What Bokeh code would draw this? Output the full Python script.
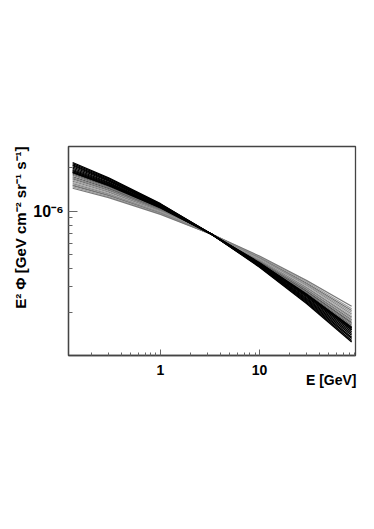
import math
from bokeh.plotting import figure
from bokeh.models import FixedTicker, CustomJSTickFormatter, Label, Title, ColumnDataSource
from bokeh.embed import file_html
from bokeh.resources import INLINE

# ---------------- data ----------------
energy_gev = [0.13, 0.3, 1.0, 3.3, 10.0, 30.0, 85.0]
FLUX_UNIT = 1e-7  # E^2 Phi values below are in units of 1e-7 GeV cm^-2 sr^-1 s^-1

gray_curves = [
    [19.0, 15.3, 10.6, 6.9, 4.35, 2.59, 1.51],
    [18.7, 15.1, 10.5, 6.9, 4.38, 2.64, 1.55],
    [18.3, 14.9, 10.48, 6.9, 4.41, 2.67, 1.58],
    [18.0, 14.7, 10.4, 6.9, 4.44, 2.71, 1.62],
    [17.7, 14.5, 10.3, 6.9, 4.48, 2.75, 1.66],
    [17.3, 14.3, 10.2, 6.9, 4.51, 2.79, 1.69],
    [17.0, 14.1, 10.18, 6.9, 4.54, 2.84, 1.73],
    [16.7, 13.9, 10.1, 6.9, 4.57, 2.87, 1.77],
    [16.4, 13.7, 10.0, 6.9, 4.61, 2.92, 1.81],
    [16.1, 13.5, 9.96, 6.9, 4.64, 2.96, 1.85],
    [15.8, 13.3, 9.89, 6.9, 4.67, 3.01, 1.89],
    [15.5, 13.1, 9.81, 6.9, 4.71, 3.06, 1.94],
    [15.2, 12.9, 9.74, 6.9, 4.75, 3.11, 1.99],
    [15.0, 12.8, 9.66, 6.9, 4.79, 3.16, 2.05],
    [14.7, 12.6, 9.58, 6.9, 4.83, 3.23, 2.11],
    [14.4, 12.38, 9.49, 6.9, 4.88, 3.30, 2.19],
]
gray_colors = [
    "#202020", "#4d4d4d", "#333333", "#666666", "#7a7a7a", "#555555",
    "#8a8a8a", "#707070", "#a0a0a0", "#7a7a7a", "#b0b0b0", "#8a8a8a",
    "#999999", "#707070", "#a0a0a0", "#7a7a7a",
]

black_curves = [
    [21.7, 17.0, 11.25, 6.9, 4.09, 2.28, 1.24],
    [21.3, 16.8, 11.17, 6.9, 4.12, 2.32, 1.27],
    [20.9, 16.5, 11.08, 6.9, 4.16, 2.36, 1.31],
    [20.6, 16.3, 11.0, 6.9, 4.19, 2.40, 1.34],
    [20.2, 16.1, 10.9, 6.9, 4.23, 2.44, 1.38],
    [19.8, 15.8, 10.8, 6.9, 4.26, 2.48, 1.42],
    [19.4, 15.6, 10.7, 6.9, 4.30, 2.53, 1.46],
    [19.1, 15.4, 10.66, 6.9, 4.34, 2.57, 1.50],
    [18.7, 15.2, 10.6, 6.9, 4.37, 2.62, 1.54],
    [18.5, 15.0, 10.5, 6.9, 4.39, 2.65, 1.56],
]

x_major = [1, 10]
x_minor = [0.2, 0.3, 0.4, 0.5, 0.6, 0.7, 0.8, 0.9,
           2, 3, 4, 5, 6, 7, 8, 9, 20, 30, 40, 50, 60, 70, 80, 90]
y_major = [1e-6]
y_minor = [2e-7, 3e-7, 4e-7, 5e-7, 6e-7, 7e-7, 8e-7, 9e-7, 2e-6]

x_title = "E [GeV]"
y_title = "E\u00b2 \u03a6 [GeV cm\u207b\u00b2 sr\u207b\u00b9 s\u207b\u00b9]"
y_tick_text = "10\u207b\u2076"

X_MIN, X_MAX = 0.118, 93.0
Y_MIN, Y_MAX = 1.0e-7, 2.8e-6

# ---------------- figure ----------------
FONT = "Liberation Sans"
FRAME = "#444444"
TICK = "#666666"

p = figure(width=366, height=521,
           x_axis_type="log", y_axis_type="log",
           x_range=(X_MIN, X_MAX), y_range=(Y_MIN, Y_MAX),
           output_backend="svg", toolbar_location=None,
           min_border_left=68, min_border_right=11,
           min_border_top=146, min_border_bottom=166)
p.background_fill_color = "white"
p.border_fill_color = "white"
p.outline_line_color = FRAME
p.outline_line_width = 1.3
p.xgrid.visible = False
p.ygrid.visible = False

gray_src = ColumnDataSource(dict(
    xs=[energy_gev for _ in gray_curves],
    ys=[[v * FLUX_UNIT for v in c] for c in gray_curves],
    color=gray_colors,
))
p.multi_line(xs="xs", ys="ys", line_color="color", line_width=1.2, source=gray_src)

black_src = ColumnDataSource(dict(
    xs=[energy_gev for _ in black_curves],
    ys=[[v * FLUX_UNIT for v in c] for c in black_curves],
))
p.multi_line(xs="xs", ys="ys", line_color="black", line_width=1.3, source=black_src)

# axes
xa = p.xaxis[0]
xa.ticker = FixedTicker(ticks=x_major, minor_ticks=x_minor)
xa.formatter = CustomJSTickFormatter(code="return String(tick);")
xa.major_tick_in = 6
xa.major_tick_out = 0
xa.minor_tick_in = 3
xa.minor_tick_out = 0
xa.major_tick_line_color = TICK
xa.minor_tick_line_color = TICK
xa.major_label_standoff = 9
xa.major_label_text_font = FONT
xa.major_label_text_font_style = "bold"
xa.major_label_text_font_size = "14px"
xa.major_label_text_color = "black"
xa.axis_line_color = FRAME
xa.axis_line_width = 1.3

ya = p.yaxis[0]
ya.ticker = FixedTicker(ticks=y_major, minor_ticks=y_minor)
ya.formatter = CustomJSTickFormatter(code="return '%s';" % y_tick_text)
ya.major_tick_in = 9
ya.major_tick_out = 0
ya.minor_tick_in = 4
ya.minor_tick_out = 0
ya.major_tick_line_color = TICK
ya.minor_tick_line_color = TICK
ya.major_label_standoff = 5
ya.major_label_text_font = FONT
ya.major_label_text_font_style = "bold"
ya.major_label_text_font_size = "16px"
ya.major_label_text_color = "black"
ya.axis_line_color = FRAME
ya.axis_line_width = 1.3

# axis titles
p.add_layout(Label(x=X_MAX, y=Y_MIN, x_offset=1, y_offset=-24,
                   text=x_title, text_align="right", text_baseline="middle",
                   text_font=FONT, text_font_style="bold",
                   text_font_size="14px", text_color="black"), "below")
p.add_layout(Title(text=y_title, align="right", standoff=4,
                   text_font=FONT, text_font_style="bold",
                   text_font_size="15px", text_color="black"), "left")

open("out.html", "w").write(file_html(p, INLINE))
